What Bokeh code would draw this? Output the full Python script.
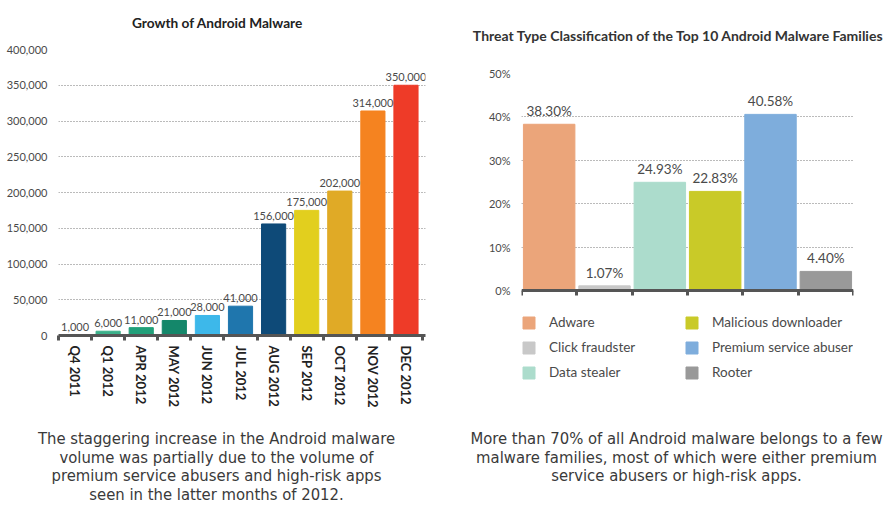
import math
from bokeh.plotting import figure
from bokeh.layouts import row, column
from bokeh.models import (ColumnDataSource, FixedTicker, NumeralTickFormatter,
                          PrintfTickFormatter, Legend, LegendItem, Range1d)
from bokeh.core.properties import value
from bokeh.embed import file_html
from bokeh.resources import INLINE

# ---------------- data ----------------
months = ["Q4 2011", "Q1 2012", "APR 2012", "MAY 2012", "JUN 2012", "JUL 2012",
          "AUG 2012", "SEP 2012", "OCT 2012", "NOV 2012", "DEC 2012"]
malware_counts = [1000, 6000, 11000, 21000, 28000, 41000,
                  156000, 175000, 202000, 314000, 350000]
month_colors = ["#5cc09f", "#3bb08a", "#22a07a", "#14876a", "#3db8ea", "#1f76ad",
                "#0e4a78", "#e2cf1e", "#e0aa26", "#f58320", "#ee3b28"]

threat_types = ["Adware", "Click fraudster", "Data stealer",
                "Malicious downloader", "Premium service abuser", "Rooter"]
threat_share = [38.30, 1.07, 24.93, 22.83, 40.58, 4.40]
threat_colors = ["#eba57a", "#c8c8c8", "#acdccc", "#c9ca28", "#7eaddc", "#999999"]

left_title = "Growth of Android Malware"
right_title = "Threat Type Classification of the Top 10 Android Malware Families"
left_caption = ["The staggering increase in the Android malware",
                "volume was partially due to the volume of",
                "premium service abusers and high-risk apps",
                "seen in the latter months of 2012."]
right_caption = ["More than 70% of all Android malware belongs to a few",
                 "malware families, most of which were either premium",
                 "service abusers or high-risk apps."]

NUM_FONT = "Lato"
CAP_FONT = "'DejaVu Sans Condensed', Roboto"
AXIS_COLOR = "#555555"
TEXT_COLOR = "#4a4a4a"
CAP_COLOR = "#3a3a3a"
GRID_COLOR = "#777777"
TOTAL_W = 890


def no_align(fig):
    if "frame_align" in fig.properties():
        fig.frame_align = False


def text_strip(height):
    f = figure(width=TOTAL_W, height=height, output_backend="svg", toolbar_location=None,
               x_range=Range1d(0, TOTAL_W), y_range=Range1d(height, 0),
               min_border=0, min_border_left=0, min_border_right=0,
               min_border_top=0, min_border_bottom=0)
    f.axis.visible = False
    f.grid.visible = False
    f.outline_line_color = None
    no_align(f)
    return f


# ---------------- titles strip ----------------
top = text_strip(44)
top.text(x=[217], y=[22], text=[left_title], text_align="center", text_baseline="middle",
         text_font=value(NUM_FONT), text_font_style="bold", text_font_size="13.7px",
         text_color="#222222")
top.text(x=[678], y=[35], text=[right_title], text_align="center", text_baseline="middle",
         text_font=value(NUM_FONT), text_font_style="bold", text_font_size="14px",
         text_color="#333333")

# ---------------- left chart ----------------
src1 = ColumnDataSource(dict(
    x=list(range(len(months))),
    y=malware_counts,
    color=month_colors,
    label=[f"{v:,}" for v in malware_counts],
))

p1 = figure(width=458, height=381, output_backend="svg", toolbar_location=None,
            x_range=Range1d(-0.5, len(months) - 0.41), y_range=Range1d(0, 400000),
            min_border_left=58, min_border_right=33, min_border_top=5,
            min_border_bottom=90)
no_align(p1)
p1.outline_line_color = None
p1.vbar(x="x", top="y", width=0.73, color="color", source=src1)
p1.text(x="x", y="y", text="label", source=src1, text_align="center",
        text_baseline="bottom", y_offset=-4, text_font=value(NUM_FONT),
        text_font_size="11px", text_color=TEXT_COLOR)

p1.xgrid.visible = False
p1.ygrid.ticker = FixedTicker(ticks=list(range(50000, 400001, 50000)))
p1.ygrid.grid_line_color = GRID_COLOR
p1.ygrid.grid_line_dash = "1 2"

p1.yaxis.ticker = FixedTicker(ticks=list(range(0, 400001, 50000)))
p1.yaxis.formatter = NumeralTickFormatter(format="0,0")
p1.yaxis.axis_line_color = None
p1.yaxis.major_tick_line_color = None
p1.yaxis.minor_tick_line_color = None
p1.yaxis.major_label_standoff = 5
p1.yaxis.major_label_text_font = NUM_FONT
p1.yaxis.major_label_text_font_size = "11px"
p1.yaxis.major_label_text_color = TEXT_COLOR

p1.xaxis.ticker = FixedTicker(ticks=list(range(len(months))),
                              minor_ticks=[i - 0.5 for i in range(len(months) + 1)])
p1.xaxis.major_label_overrides = {i: m for i, m in enumerate(months)}
p1.xaxis.major_label_orientation = -math.pi / 2
p1.xaxis.major_label_standoff = 5
p1.xaxis.major_label_text_font = NUM_FONT
p1.xaxis.major_label_text_font_style = "bold"
p1.xaxis.major_label_text_font_size = "13px"
p1.xaxis.major_label_text_color = "#222222"
p1.xaxis.axis_line_color = AXIS_COLOR
p1.xaxis.axis_line_width = 3
p1.xaxis.major_tick_line_color = None
p1.xaxis.major_tick_out = 0
p1.xaxis.minor_tick_line_color = AXIS_COLOR
p1.xaxis.minor_tick_line_width = 3
p1.xaxis.minor_tick_out = 5
p1.xaxis.minor_tick_in = 0

# ---------------- right chart ----------------
src2 = ColumnDataSource(dict(
    x=list(range(len(threat_types))),
    y=threat_share,
    color=threat_colors,
    label=[f"{v:.2f}%" for v in threat_share],
))

p2 = figure(width=TOTAL_W - 458, height=381, output_backend="svg", toolbar_location=None,
            x_range=Range1d(-0.5, len(threat_types) - 0.5), y_range=Range1d(-23.04, 50),
            min_border_left=63, min_border_right=37, min_border_top=29,
            min_border_bottom=35)
no_align(p2)
p2.outline_line_color = None
bars = p2.vbar(x="x", top="y", width=0.93, color="color", source=src2)
p2.text(x="x", y="y", text="label", source=src2, text_align="center",
        text_baseline="bottom", y_offset=-5, text_font=value(NUM_FONT),
        text_font_size="13.5px", text_color=TEXT_COLOR)

p2.xgrid.visible = False
p2.ygrid.ticker = FixedTicker(ticks=[10, 20, 30, 40, 50])
p2.ygrid.grid_line_color = GRID_COLOR
p2.ygrid.grid_line_dash = "1 2"

p2.yaxis.ticker = FixedTicker(ticks=[0, 10, 20, 30, 40, 50])
p2.yaxis.formatter = PrintfTickFormatter(format="%d%%")
p2.yaxis.axis_line_color = None
p2.yaxis.major_tick_line_color = None
p2.yaxis.minor_tick_line_color = None
p2.yaxis.major_label_standoff = 5
p2.yaxis.major_label_text_font = NUM_FONT
p2.yaxis.major_label_text_font_size = "11px"
p2.yaxis.major_label_text_color = TEXT_COLOR

p2.xaxis.fixed_location = 0
p2.xaxis.ticker = FixedTicker(ticks=list(range(len(threat_types))),
                              minor_ticks=[i - 0.5 for i in range(len(threat_types) + 1)])
p2.xaxis.major_label_overrides = {i: "" for i in range(len(threat_types))}
p2.xaxis.major_label_standoff = 2
p2.xaxis.axis_line_color = AXIS_COLOR
p2.xaxis.axis_line_width = 3
p2.xaxis.major_tick_line_color = None
p2.xaxis.major_tick_out = 0
p2.xaxis.minor_tick_line_color = AXIS_COLOR
p2.xaxis.minor_tick_line_width = 3
p2.xaxis.minor_tick_out = 5
p2.xaxis.minor_tick_in = 0

items = [LegendItem(label=t, renderers=[bars], index=i) for i, t in enumerate(threat_types)]
for xloc, grp in [(0, items[:3]), (163, items[3:])]:
    lg = Legend(items=grp, location=(xloc, 10), orientation="vertical",
                glyph_width=15, glyph_height=15, label_height=16, label_standoff=13,
                spacing=9, padding=0, margin=0, border_line_color=None,
                background_fill_alpha=0, label_text_font=NUM_FONT,
                label_text_font_size="13.5px", label_text_color=TEXT_COLOR)
    p2.add_layout(lg, "center")

# ---------------- captions strip ----------------
bottom = text_strip(80)
for i, line in enumerate(left_caption):
    bottom.text(x=[216], y=[13 + 18.7 * i], text=[line], text_align="center",
                text_baseline="middle", text_font=value(CAP_FONT),
                text_font_size="16.5px", text_color=CAP_COLOR)
for i, line in enumerate(right_caption):
    bottom.text(x=[676], y=[13 + 18.7 * i], text=[line], text_align="center",
                text_baseline="middle", text_font=value(CAP_FONT),
                text_font_size="16.5px", text_color=CAP_COLOR)

layout = column(top, row(p1, p2, spacing=0), bottom, spacing=0)
open("out.html", "w").write(file_html(layout, INLINE))
